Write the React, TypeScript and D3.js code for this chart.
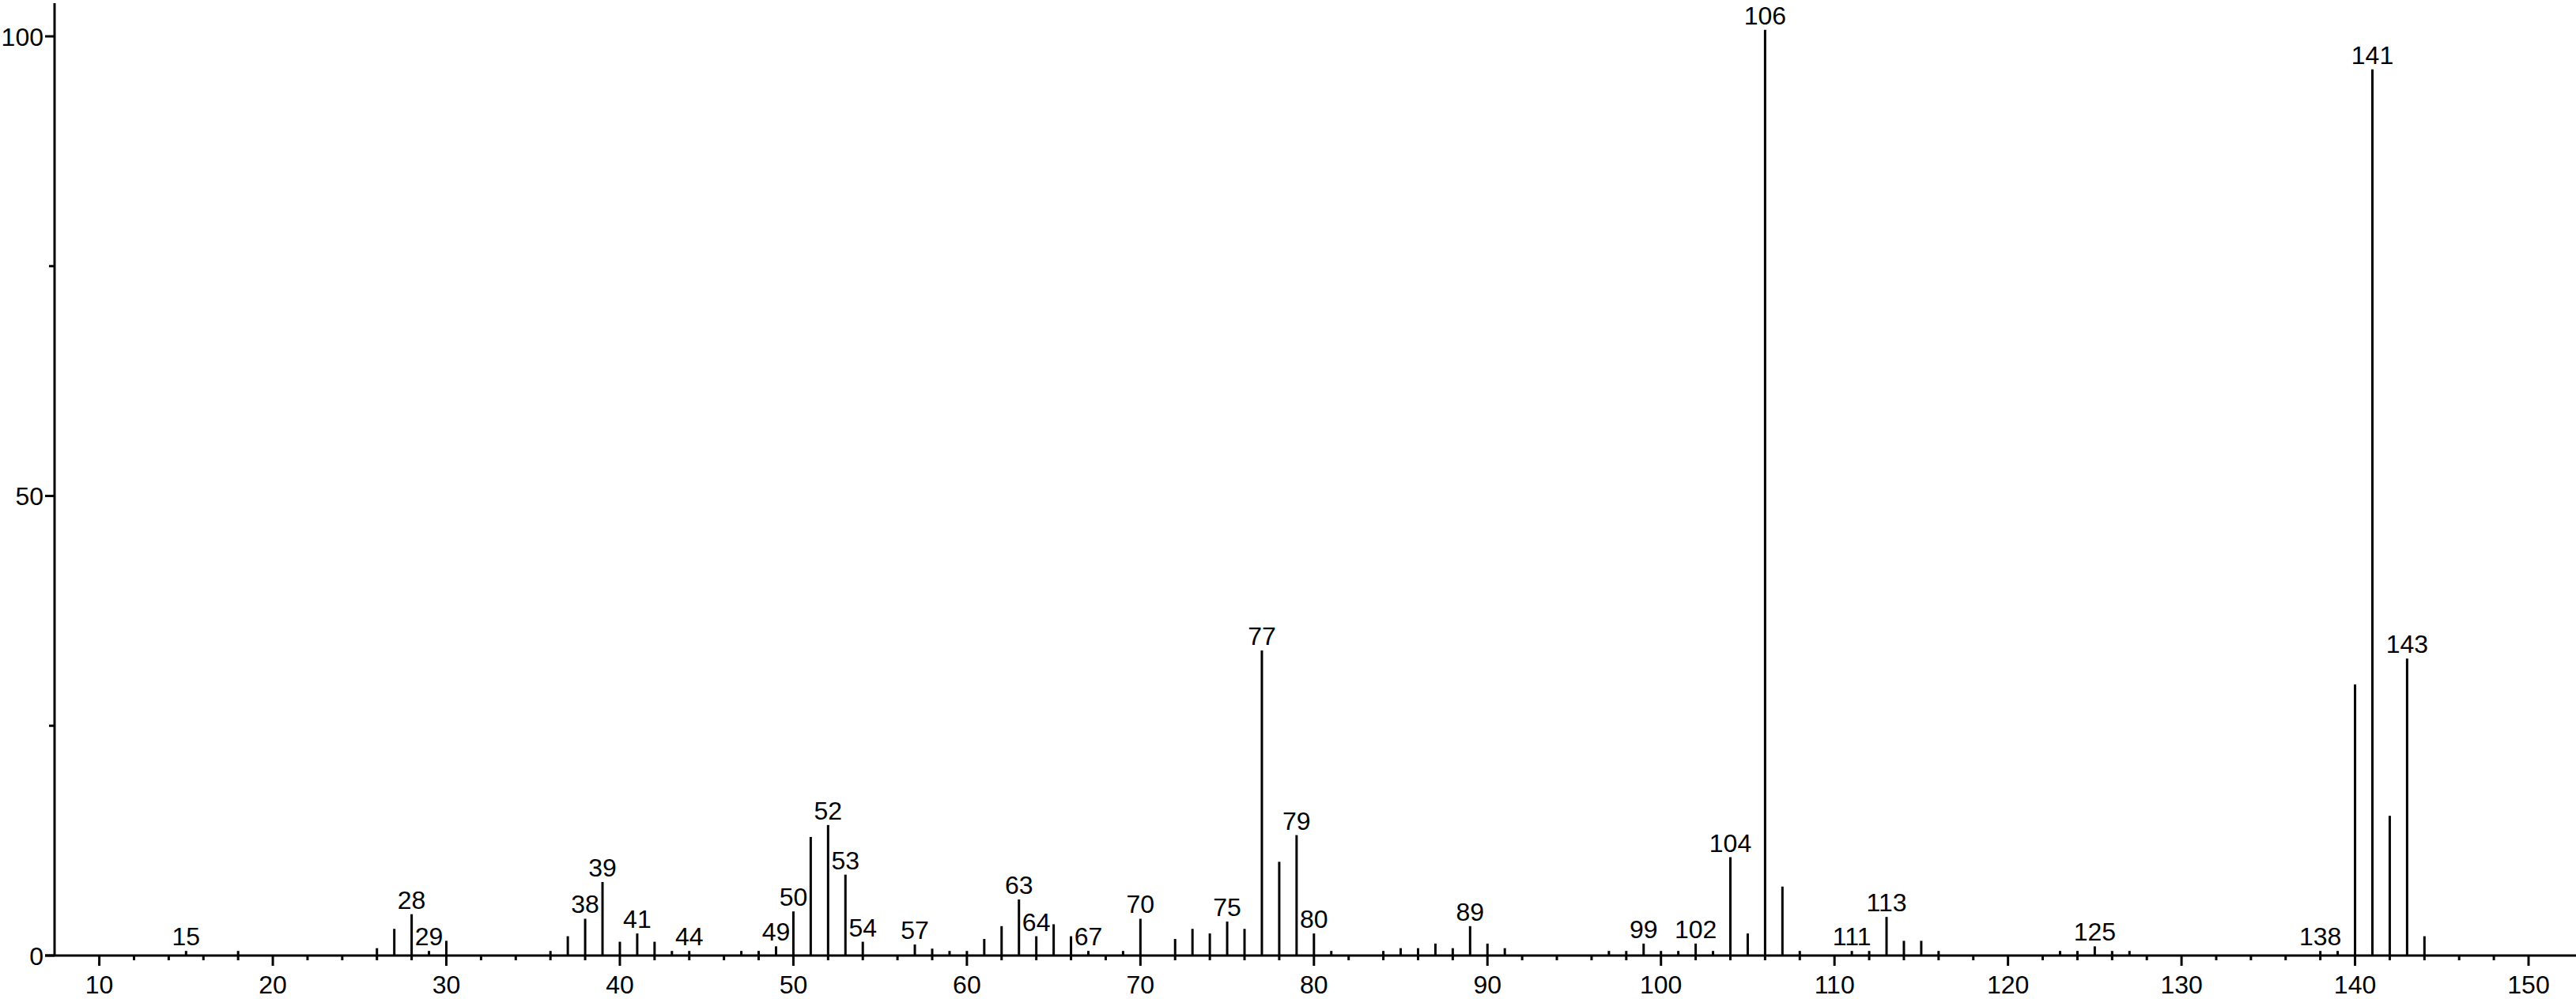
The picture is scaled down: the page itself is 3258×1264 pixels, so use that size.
import React from 'react';
import * as d3 from 'd3';

// m/z values and relative intensities
const mzValues = [15, 18, 26, 27, 28, 29, 30, 36, 37, 38, 39, 40, 41, 42, 43, 44, 47, 48, 49, 50, 51, 52, 53, 54, 57, 58, 59, 60, 61, 62, 63, 64, 65, 66, 67, 69, 70, 72, 73, 74, 75, 76, 77, 78, 79, 80, 81, 84, 85, 86, 87, 88, 89, 90, 91, 97, 98, 99, 100, 101, 102, 103, 104, 105, 106, 107, 108, 111, 112, 113, 114, 115, 116, 123, 124, 125, 126, 127, 138, 139, 140, 141, 142, 143, 144];
const intensities = [0.5, 0.5, 0.8, 2.9, 4.5, 0.5, 1.6, 0.5, 2.1, 4.0, 8.0, 1.5, 2.4, 1.5, 0.5, 0.5, 0.5, 0.5, 1.0, 4.8, 12.9, 14.2, 8.8, 1.5, 1.2, 0.75, 0.5, 0.5, 1.8, 3.2, 6.1, 2.1, 3.4, 2.1, 0.5, 0.5, 4.0, 1.8, 2.9, 2.4, 3.7, 2.9, 33.2, 10.2, 13.1, 2.4, 0.5, 0.5, 0.8, 0.8, 1.3, 0.8, 3.2, 1.3, 0.8, 0.5, 0.5, 1.3, 0.5, 0.5, 1.3, 0.5, 10.7, 2.4, 100.7, 7.5, 0.5, 0.5, 0.5, 4.2, 1.6, 1.6, 0.5, 0.5, 0.5, 1.0, 0.5, 0.5, 0.5, 0.5, 29.5, 96.4, 15.2, 32.3, 2.1];
const labeledMz = [15, 28, 29, 38, 39, 41, 44, 49, 50, 52, 53, 54, 57, 63, 64, 67, 70, 75, 77, 79, 80, 89, 99, 102, 104, 106, 111, 113, 125, 138, 141, 143];
const xTickValues = [10, 20, 30, 40, 50, 60, 70, 80, 90, 100, 110, 120, 130, 140, 150];
const yTickValues = [0, 50, 100];
const yMinorTickValues = [25, 75];

const FONT = '"Liberation Sans", Arial, Helvetica, sans-serif';

export default function App() {
  const W = 3258;
  const H = 1264;
  const x = d3.scaleLinear().domain([10, 150]).range([125.6, 3198]);
  const y = d3.scaleLinear().domain([0, 100]).range([1209, 46]);
  const axisX = 69;
  const baseY = y(0);
  const minorX = d3.range(12, 150, 2).filter((v) => v % 10 !== 0);
  const peaks = mzValues.map((m, i) => ({ m, v: intensities[i] }));
  const stroke = '#000';

  return (
    <svg
      width={W}
      height={H}
      viewBox={`0 0 ${W} ${H}`}
      style={{ position: 'absolute', left: 0, top: 0, background: '#fff' }}
      fontFamily={FONT}
    >
      <rect x={0} y={0} width={W} height={H} fill="#fff" />
      {/* peaks */}
      {peaks.map((p) => (
        <line key={`p${p.m}`} x1={x(p.m)} x2={x(p.m)} y1={baseY} y2={y(p.v)} stroke={stroke} strokeWidth={3} />
      ))}
      {/* x axis */}
      <line x1={57} x2={W} y1={baseY} y2={baseY} stroke={stroke} strokeWidth={3} />
      {xTickValues.map((t) => (
        <g key={`xt${t}`}>
          <line x1={x(t)} x2={x(t)} y1={baseY} y2={baseY + 13} stroke={stroke} strokeWidth={3} />
          <text x={x(t)} y={1257} textAnchor="middle" fontSize={32} fill="#000">{t}</text>
        </g>
      ))}
      {minorX.map((t) => (
        <line key={`xm${t}`} x1={x(t)} x2={x(t)} y1={baseY} y2={baseY + 6} stroke={stroke} strokeWidth={3} />
      ))}
      {/* y axis */}
      <line x1={axisX} x2={axisX} y1={4} y2={baseY} stroke={stroke} strokeWidth={3} />
      {yTickValues.map((t) => (
        <g key={`yt${t}`}>
          <line x1={57} x2={axisX} y1={y(t)} y2={y(t)} stroke={stroke} strokeWidth={3} />
          <text x={55} y={y(t)} dy="0.36em" textAnchor="end" fontSize={32} fill="#000">{t}</text>
        </g>
      ))}
      {yMinorTickValues.map((t) => (
        <line key={`ym${t}`} x1={62} x2={axisX} y1={y(t)} y2={y(t)} stroke={stroke} strokeWidth={3} />
      ))}
      {/* peak labels */}
      {peaks.filter((p) => labeledMz.includes(p.m)).map((p) => (
        <text key={`l${p.m}`} x={x(p.m)} y={y(p.v) - 7} textAnchor="middle" fontSize={32} fill="#000"
          stroke="#fff" strokeWidth={4} paintOrder="stroke">
          {p.m}
        </text>
      ))}
    </svg>
  );
}
